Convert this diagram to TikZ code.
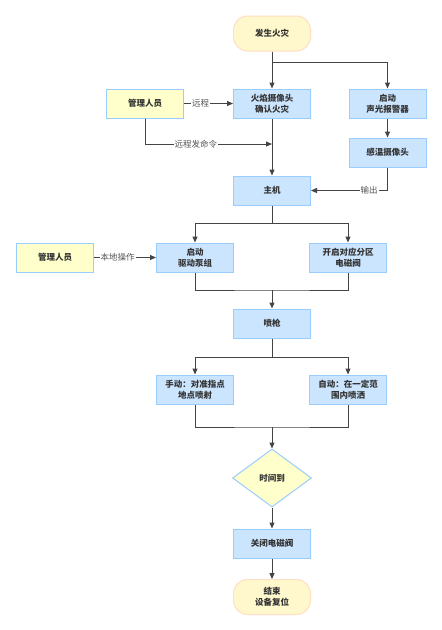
\documentclass[tikz,border=0pt]{standalone}
\usepackage{fontspec}
\setmainfont{Noto Sans CJK SC}
\usetikzlibrary{shapes.geometric,arrows.meta}
\definecolor{bfill}{HTML}{CCE5FF}
\definecolor{bdraw}{HTML}{99CCFF}
\definecolor{yfill}{HTML}{FFFFCC}
\definecolor{tfill}{HTML}{FFF8CC}
\definecolor{tdraw}{HTML}{FFDFC4}
\definecolor{txt}{HTML}{333333}
\definecolor{ln}{HTML}{444444}
\definecolor{labc}{HTML}{555555}
\begin{document}
\begin{tikzpicture}[x=1pt,y=-1pt,
  box/.style={draw=bdraw, fill=bfill, line width=1pt, minimum width=77pt, minimum height=29pt, inner sep=0pt, align=center, text=txt, font=\fontsize{8.5}{11}\selectfont\bfseries},
  ybox/.style={box, fill=yfill},
  term/.style={box, fill=tfill, draw=tdraw, minimum height=35pt, rounded corners=14pt},
  dia/.style={diamond, draw=bdraw, fill=yfill, line width=1pt, minimum width=79pt, minimum height=58pt, inner sep=0pt, text=txt, font=\fontsize{8.5}{11}\selectfont\bfseries},
  arr/.style={draw=ln, line width=1pt, -{Triangle[length=6pt,width=5pt]}},
  ln/.style={draw=ln, line width=1pt},
  lab/.style={fill=white, text=labc, inner sep=1pt, font=\fontsize{8.5}{10}\selectfont}
]
\useasboundingbox[fill=white] (0,0) rectangle (442,630);
\node[term] (t0) at (272,33.5) {发生火灾};
\node[box] (cam) at (272,103.5) {火焰摄像头\\确认火灾};
\node[box] (alarm) at (387.5,103.5) {启动\\声光报警器};
\node[ybox] (mgr1) at (145,103.5) {管理人员};
\node[box] (temp) at (387.5,152.5) {感温摄像头};
\node[box] (host) at (272,190.5) {主机};
\node[box] (pump) at (195,257.5) {启动\\驱动泵组};
\node[box] (valve) at (348,257.5) {开启对应分区\\电磁阀};
\node[ybox] (mgr2) at (55,257.5) {管理人员};
\node[box] (gun) at (272,323.5) {喷枪};
\node[box] (man) at (195,389.5) {手动：对准指点\\地点喷射};
\node[box] (auto) at (348,389.5) {自动：在一定范\\围内喷洒};
\node[dia] (time) at (272,478) {时间到};
\node[box] (close) at (272,543.5) {关闭电磁阀};
\node[term] (end) at (272,597) {结束\\设备复位};
\coordinate (c1) at (272,144);
\coordinate (j1) at (272,290);
\coordinate (j2) at (272,427);

\draw[arr] (t0.south) -- (cam.north);
\draw[arr] (t0.south) -- ++(0,11) -| (alarm.north);
\draw[arr] (mgr1.east) -- node[lab,pos=0.34]{远程} (cam.west);
\draw[arr] (cam.south) -- (host.north);
\draw[arr] (mgr1.south) |- node[lab,pos=0.70]{远程发命令} (c1);
\draw[arr] (alarm.south) -- (temp.north);
\draw[arr] (temp.south) |- node[lab,pos=0.62]{输出} (host.east);
\draw[arr] (host.south) -- ++(0,18) -| (pump.north);
\draw[arr] (host.south) -- ++(0,18) -| (valve.north);
\draw[arr] (mgr2.east) -- node[lab,pos=0.38]{本地操作} (pump.west);
\draw[ln] (pump.south) |- (j1) -| (valve.south);
\draw[arr] (j1) -- (gun.north);
\draw[arr] (gun.south) -- ++(0,19) -| (man.north);
\draw[arr] (gun.south) -- ++(0,19) -| (auto.north);
\draw[ln] (man.south) |- (j2) -| (auto.south);
\draw[arr] (j2) -- (time.north);
\draw[arr] (time.south) -- (close.north);
\draw[arr] (close.south) -- (end.north);
\end{tikzpicture}
\end{document}
